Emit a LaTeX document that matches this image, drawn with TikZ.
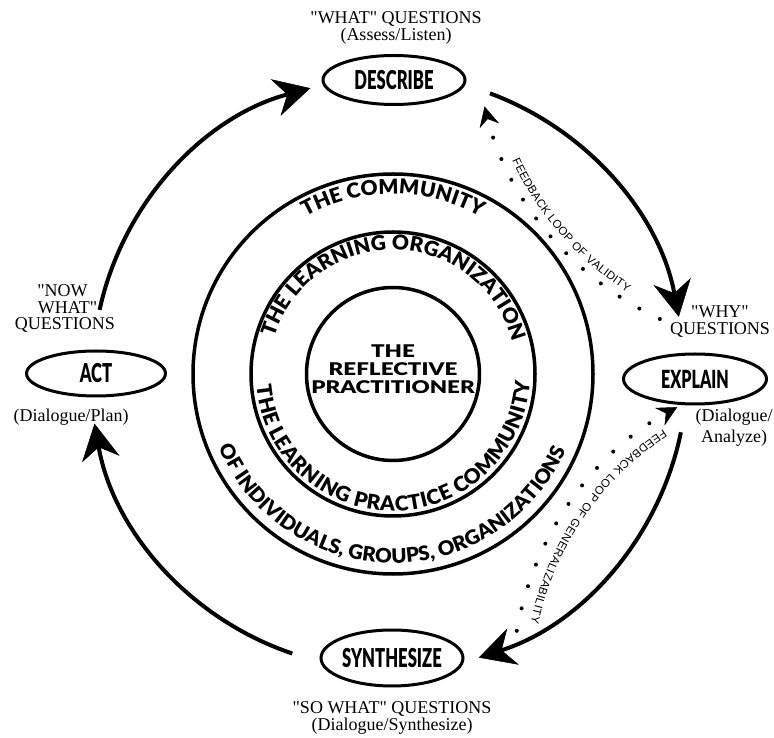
\documentclass[tikz,border=0pt]{standalone}
\usepackage{fontspec}
\setmainfont{Liberation Serif}
\newfontfamily\heavyfont{Lato}[UprightFont={* Black}, FakeStretch=0.64]
\newfontfamily\ringfont{Lato}[UprightFont={* Black}, FakeStretch=1.02]
\newfontfamily\centerfont{Lato}[UprightFont={* Black}, FakeStretch=1.28]
\newfontfamily\loopfont{Liberation Sans}
\usetikzlibrary{shapes.geometric, arrows.meta, decorations.text}
\tikzset{
  stage/.style={ellipse, draw, line width=3pt, inner sep=0pt},
  ringline/.style={circle, draw, line width=3.5pt, inner sep=0pt},
  cyc/.style={line width=4pt, -{Stealth[length=36pt, width=38pt, inset=12pt, line width=0.5pt]}},
  fb/.style={line width=4pt, line cap=round, dash pattern=on 0pt off 23pt, -{Stealth[length=20pt, width=20pt, inset=7pt, line width=0.5pt]}},
  lbl/.style={font=\fontsize{18}{20}\selectfont, inner sep=0pt, anchor=base},
}
\begin{document}
\begin{tikzpicture}[x=1pt, y=1pt]
\useasboundingbox (0,0) rectangle (774,737);
% rings
\coordinate (rc) at (393,363);
\node[ringline, minimum size=400pt] (outer) at (rc) {};
\node[ringline, minimum size=284pt] (middle) at (rc) {};
\node[ringline, minimum size=173pt] (inner) at (rc) {};
\node[font=\centerfont\fontsize{17.5}{18}\selectfont, align=center, inner sep=0pt] (rp) at (393,368) {THE\\REFLECTIVE\\PRACTITIONER};
% ring texts
\path[decorate, decoration={text along path, text align=fit to path, text={|\ringfont\fontsize{20.5}{20}\selectfont|THE COMMUNITY}}]
  (305.7,520.4) arc[start angle=119, end angle=61, radius=180];
\path[decorate, decoration={text along path, text align=fit to path, text={|\ringfont\fontsize{20}{20}\selectfont|OF INDIVIDUALS, GROUPS, ORGANIZATIONS}}]
  (219.0,289.2) arc[start angle=203, end angle=336, radius=189];
\path[decorate, decoration={text along path, text align=fit to path, text={|\ringfont\fontsize{20.5}{20}\selectfont|THE LEARNING ORGANIZATION}}]
  (274.4,399.3) arc[start angle=163, end angle=15, radius=124];
\path[decorate, decoration={text along path, text align=fit to path, text={|\ringfont\fontsize{20.5}{20}\selectfont|THE LEARNING PRACTICE COMMUNITY}}]
  (256.5,351.1) arc[start angle=185, end angle=357, radius=137];
% stages
\node[stage, minimum width=142pt, minimum height=49pt] (describe) at (394,657) {\heavyfont\fontsize{26}{26}\selectfont DESCRIBE};
\node[stage, minimum width=143pt, minimum height=50pt] (explain) at (695,358) {\heavyfont\fontsize{25}{25}\selectfont EXPLAIN};
\node[stage, minimum width=142pt, minimum height=56pt] (synth) at (392,79) {\heavyfont\fontsize{26}{26}\selectfont SYNTHESIZE};
\node[stage, minimum width=139pt, minimum height=45pt] (act) at (96,363.5) {\heavyfont\fontsize{26}{26}\selectfont ACT};
% labels
\node[lbl] (whatq) at (396,713.7) {\textquotedbl WHAT\textquotedbl{} QUESTIONS};
\node[lbl] (assess) at (396,696.3) {(Assess/Listen)};
\node[lbl] (whyq) at (720,419.7) {\textquotedbl WHY\textquotedbl};
\node[lbl] (whyq2) at (720,402) {QUESTIONS};
\node[lbl] (dial1) at (734,315) {(Dialogue/};
\node[lbl] (dial2) at (734,294) {Analyze)};
\node[lbl] (sowhat) at (392,23.7) {\textquotedbl SO WHAT\textquotedbl{} QUESTIONS};
\node[lbl] (dialsyn) at (392,6.3) {(Dialogue/Synthesize)};
\node[lbl] (now1) at (62.5,440.3) {\textquotedbl NOW};
\node[lbl] (now2) at (67.5,423.7) {WHAT\textquotedbl};
\node[lbl] (now3) at (65,407) {QUESTIONS};
\node[lbl] (dialplan) at (71,315.3) {(Dialogue/Plan)};
% cycle arcs
\coordinate (trs) at (490.0,643.6);
\draw[cyc] (trs) arc[start angle=69.7, end angle=10.7, radius=297];
\coordinate (brs) at (680.9,304.7);
\draw[cyc] (brs) arc[start angle=-11.6, end angle=-72.2, radius=300];
\coordinate (bls) at (292.3,83.5);
\draw[cyc] (bls) arc[start angle=251.4, end angle=190, radius=297];
\coordinate (tls) at (99.6,427.1);
\draw[cyc] (tls) arc[start angle=167.8, end angle=105.1, radius=294];
% feedback loops
\coordinate (vs) at (659.8,418.0);
\draw[fb] (vs) arc[start angle=245, end angle=194, radius=320];
\coordinate (gs) at (516.8,106.2);
\draw[fb] (gs) arc[start angle=170, end angle=118.7, radius=318];
\path[decorate, decoration={text along path, text align=fit to path, text={|\loopfont\fontsize{11.5}{11.5}\selectfont|FEEDBACK LOOP OF VALIDITY}}]
  (512.2,576.1) arc[start angle=205, end angle=237.5, radius=312];
\path[decorate, decoration={text along path, text align=fit to path, text={|\loopfont\fontsize{11.5}{11.5}\selectfont|FEEDBACK LOOP OF GENERALIZABILITY}}]
  (663.3,307.6) arc[start angle=123, end angle=168, radius=306];
\end{tikzpicture}
\end{document}
